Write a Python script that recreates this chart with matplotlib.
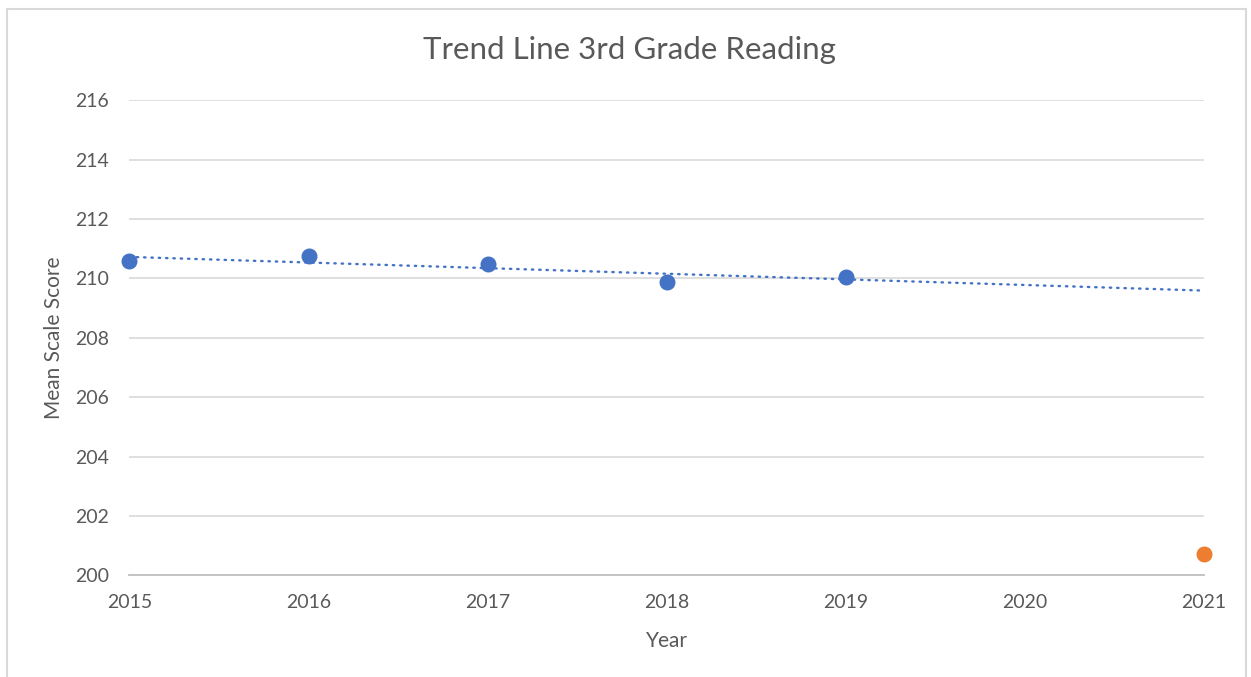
import numpy as np
import matplotlib.pyplot as plt
from matplotlib.patches import Rectangle

# reading scores
years = [2015, 2016, 2017, 2018, 2019]
scores = [210.57, 210.74, 210.49, 209.87, 210.06]
year_2021 = [2021]
score_2021 = [200.71]
x_ticks = [2015, 2016, 2017, 2018, 2019, 2020, 2021]
y_ticks = [200, 202, 204, 206, 208, 210, 212, 214, 216]

plt.rcParams['font.family'] = ['Lato', 'DejaVu Sans']
text_col = '#595959'

fig = plt.figure(figsize=(12.51, 6.77), dpi=100)
ax = fig.add_axes([0.1035, 0.15, 0.859, 0.702])

# linear trend fitted on 2015-2019, extended to 2021
slope, icpt = np.polyfit(years, scores, 1)
trend_x = np.array([x_ticks[0], x_ticks[-1]])
ax.plot(trend_x, slope * trend_x + icpt, color='#4472C4', lw=1.7,
        linestyle=(0, (0.6, 2.5)), dash_capstyle='round', zorder=3, clip_on=False)

ax.plot(years, scores, 'o', color='#4472C4', markersize=10.5, zorder=4, clip_on=False)
ax.plot(year_2021, score_2021, 'o', color='#ED7D31', markersize=10.5, zorder=4, clip_on=False)

ax.set_xlim(2015, 2021)
ax.set_ylim(200, 216)
ax.set_xticks(x_ticks)
ax.set_yticks(y_ticks)
ax.yaxis.grid(True, color='#D9D9D9', lw=1.2)
ax.set_axisbelow(True)
for s in ['top', 'right', 'left']:
    ax.spines[s].set_visible(False)
ax.spines['bottom'].set_color('#BFBFBF')
ax.spines['bottom'].set_linewidth(1.3)
ax.tick_params(length=0, labelsize=14, labelcolor=text_col)
ax.tick_params(axis='y', pad=15)
ax.tick_params(axis='x', pad=13)

ax.set_xlabel('Year', fontsize=15, color=text_col, labelpad=15)
ax.set_ylabel('Mean Scale Score', fontsize=15, color=text_col, labelpad=8)
fig.text(0.503, 0.926, 'Trend Line 3rd Grade Reading', ha='center', va='center',
         fontsize=22.5, color=text_col)

# chart frame
fig.patches.append(Rectangle((0.0056, -0.05), 0.9905, 1.037, transform=fig.transFigure,
                             fill=False, edgecolor='#D9D9D9', lw=1.5))

fig.savefig('out.png', dpi=100)
